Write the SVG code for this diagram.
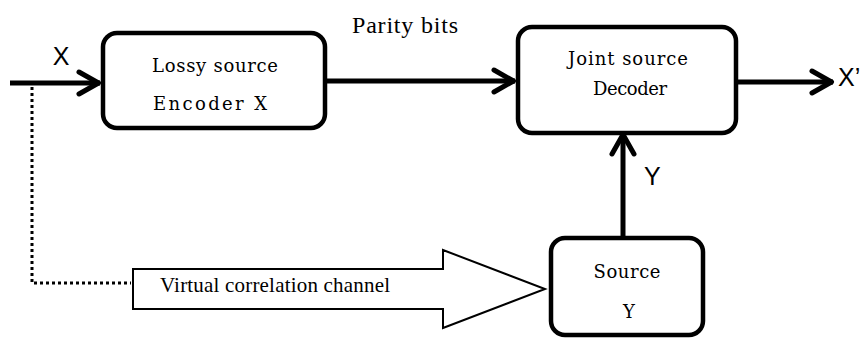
<svg xmlns="http://www.w3.org/2000/svg" width="865" height="338" viewBox="0 0 865 338">
  <style>
    .box { fill: #ffffff; stroke: #000000; stroke-width: 4.5; }
    .wire { fill: none; stroke: #000000; stroke-width: 5; }
    .dotted { fill: none; stroke: #000000; stroke-width: 3; stroke-dasharray: 3 3; }
    .channel { fill: #ffffff; stroke: #000000; stroke-width: 2; stroke-linejoin: miter; }
    .lbl { font-family: "Liberation Sans", Arial, sans-serif; font-size: 25px; fill: #000000; }
    .cap { font-family: "Liberation Serif", "Times New Roman", serif; fill: #000000; }
    .inbox { font-family: "DejaVu Serif", "Liberation Serif", serif; font-size: 18px; fill: #000000; text-anchor: middle; }
  </style>
  <defs>
    <marker id="chev" markerUnits="userSpaceOnUse" viewBox="-26 -16 30 32" markerWidth="30" markerHeight="32" refX="0" refY="0" orient="auto">
      <path d="M-21,-11 L-1.5,0 L-21,11" fill="none" stroke="#000000" stroke-width="5" stroke-linejoin="round" stroke-linecap="round"/>
    </marker>
  </defs>

  <!-- connectors -->
  <g id="connectors">
    <path class="wire" d="M10,83 H100" marker-end="url(#chev)"/>
    <path class="wire" d="M325,81 H515" marker-end="url(#chev)"/>
    <path class="wire" d="M736,82 H833" marker-end="url(#chev)"/>
    <path class="wire" d="M623,236 V133" marker-end="url(#chev)"/>
    <path class="dotted" d="M32,87 V283 H131"/>
  </g>

  <!-- edge labels -->
  <g id="labels">
    <text class="lbl" x="61" y="65" text-anchor="middle">X</text>
    <text class="lbl" x="838" y="86">X’</text>
    <text class="lbl" x="644" y="185">Y</text>
    <text class="cap" x="352" y="33" font-size="24" textLength="106" lengthAdjust="spacing">Parity bits</text>
  </g>

  <g id="encoder">
    <rect class="box" x="103" y="33" width="222" height="95" rx="14"/>
    <text class="inbox" x="215" y="72" textLength="126" lengthAdjust="spacing">Lossy source</text>
    <text class="inbox" x="210" y="110" textLength="114" lengthAdjust="spacing">Encoder X</text>
  </g>

  <g id="decoder">
    <rect class="box" x="518" y="27" width="218" height="106" rx="14"/>
    <text class="inbox" x="628" y="65" textLength="120" lengthAdjust="spacing">Joint source</text>
    <text class="inbox" x="630" y="95" textLength="74" lengthAdjust="spacing">Decoder</text>
  </g>

  <g id="source">
    <rect class="box" x="551" y="238" width="152" height="97" rx="14"/>
    <text class="inbox" x="627" y="278" textLength="67" lengthAdjust="spacing">Source</text>
    <text class="inbox" x="629" y="318">Y</text>
  </g>

  <g id="channel">
    <polygon class="channel" points="133,269 443,269 443,250 545,289 443,328 443,309 133,309"/>
    <text class="cap" x="160" y="292" font-size="21" textLength="230" lengthAdjust="spacing">Virtual correlation channel</text>
  </g>
</svg>
